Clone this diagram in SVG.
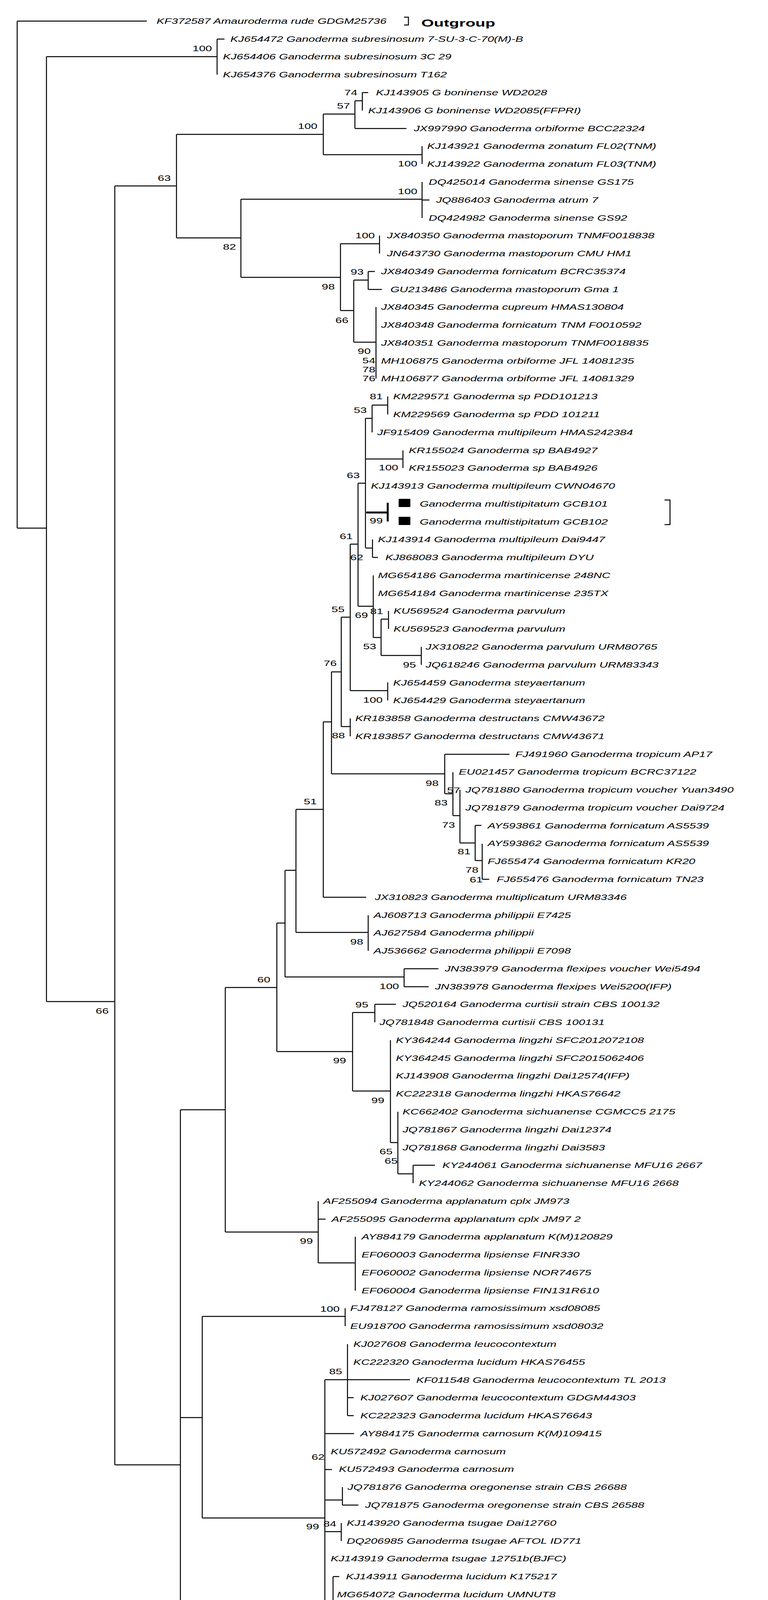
<svg xmlns="http://www.w3.org/2000/svg" width="1967" height="5094" viewBox="0 0 1967 5094">
<style>
.t{font-family:"Liberation Sans",Arial,sans-serif;font-style:italic;font-size:20px;fill:#000}
.b{font-family:"Liberation Sans",Arial,sans-serif;font-size:20px;fill:#000}
.o{font-family:"Liberation Sans",Arial,sans-serif;font-weight:bold;font-size:26px;fill:#000}
.e{fill:none;stroke:#000;stroke-width:2.5}
.k{fill:none;stroke:#000;stroke-width:5}
</style>
<rect width="1967" height="5094" fill="#fff"/>
<g id="connectors">
<path class="e" d="M44 54V1352M44 54H376M44 1352H119M119 145V2564M119 145H556M119 2564H294M556 100V191M556 100H575M294 476V3750M294 476H452M294 3750H462
M452 344V609M452 344H828M452 609H617M828 292V396M828 292H909M828 396H1081M909 258V329M909 258H928M909 329H1041M928 237V283M928 237H943M1081 374V420
M617 510V710M617 510H1081M1081 466V558M1081 512H1100M617 710H872M872 624V795M872 624H972M972 603V649M872 795H906M906 717V876M906 717H943M943 695V741M943 695H960M943 741H978M906 876H963M963 786V969
M936 1071V1402M936 1071H953M953 1037V1107M953 1037H993M993 1015V1061M936 1175H1032M1032 1153V1198M936 1403H954M954 1381V1427M954 1427H968
M917 1237V1552M917 1237H936M917 1552H956M956 1473V1632M956 1632H976M976 1585V1678M976 1585H995M995 1564V1610M976 1678H1079M1079 1656V1702
M897 1393V1768M897 1393H917M897 1768H993M993 1747V1793M874 1580V1860M874 1580H897M874 1860H897M897 1839V1885M849 1720V1981M849 1720H874M828 1848V2297M828 1848H849M828 2297H938
M849 1981H1139M1139 1931V2032M1139 1931H1305M1139 2032H1160M1160 1977V2088M1160 2088H1178M1178 2022V2158M1178 2158H1217M1217 2113V2203M1217 2113H1233M1217 2203H1235M1235 2160V2251M1235 2251H1253
M758 2072V2387M758 2072H828M758 2387H943M943 2343V2434M730 2228V2501M730 2228H758M730 2501H1035M1035 2480V2526M1035 2480H1123M1035 2526H1098
M709 2363V2692M709 2363H730M577 2528V3154M577 2528H709M709 2692H903M903 2592V2793M903 2592H960M960 2571V2617M960 2571H1014M903 2793H1000M1000 2663V2925M1000 2925H1019M1019 2846V3005M1019 3005H1058M1058 2983V3029M1058 2983H1114
M577 3154H815M815 3075V3233M815 3121H834M815 3233H910M910 3166V3304
M462 2841V4622M462 2841H577M462 3629H518M518 3370V3886M518 3370H884M884 3349V3395
M518 3886H832M832 3532V4240M832 3532H1050M890 3441V3624M890 3578H906M890 3624H906M832 3670H907M832 3762H850M832 3840H877M877 3807V3853M877 3853H918M832 3921H874M874 3899V3945M832 4240H853M853 4036V4448M853 4036H869
M462 4622H690M690 4516V4727M690 4516H869M869 4494V4540M690 4727H713M713 4608V4848M713 4608H832M832 4585V4631M832 4585H857M832 4631H853M713 4848H797M797 4746V4953M797 4746H913M913 4677V4814M913 4768H935M797 4953H913M913 4860V5043M913 4997H928
M1035 44H1046V64H1035M1702 1280H1716V1343H1702"/>
<path class="k" d="M938 1312H993M993 1287V1335"/>
<rect x="1021" y="1277" width="30" height="21" fill="#000"/>
<rect x="1021" y="1323" width="30" height="21" fill="#000"/>
</g>
<g id="support" class="b">
<text transform="translate(493,131) scale(1.5,1)">100</text>
<text transform="translate(882,244) scale(1.5,1)">74</text>
<text transform="translate(863,278) scale(1.5,1)">57</text>
<text transform="translate(763,330) scale(1.5,1)">100</text>
<text transform="translate(1019,426) scale(1.5,1)">100</text>
<text transform="translate(404,463) scale(1.5,1)">63</text>
<text transform="translate(1019,497) scale(1.5,1)">100</text>
<text transform="translate(571,639) scale(1.5,1)">82</text>
<text transform="translate(910,610) scale(1.5,1)">100</text>
<text transform="translate(824,741) scale(1.5,1)">98</text>
<text transform="translate(898,703) scale(1.5,1)">93</text>
<text transform="translate(859,827) scale(1.5,1)">66</text>
<text transform="translate(916,906) scale(1.5,1)">90</text>
<text transform="translate(928,930) scale(1.5,1)">54</text>
<text transform="translate(928,953) scale(1.5,1)">78</text>
<text transform="translate(928,976) scale(1.5,1)">76</text>
<text transform="translate(947,1022) scale(1.5,1)">81</text>
<text transform="translate(906,1057) scale(1.5,1)">53</text>
<text transform="translate(970,1204) scale(1.5,1)">100</text>
<text transform="translate(888,1224) scale(1.5,1)">63</text>
<text transform="translate(947,1340) scale(1.5,1)">99</text>
<text transform="translate(870,1380) scale(1.5,1)">61</text>
<text transform="translate(897,1434) scale(1.5,1)">62</text>
<text transform="translate(948,1572) scale(1.5,1)">81</text>
<text transform="translate(909,1582) scale(1.5,1)">69</text>
<text transform="translate(930,1662) scale(1.5,1)">53</text>
<text transform="translate(1032,1709) scale(1.5,1)">95</text>
<text transform="translate(930,1799) scale(1.5,1)">100</text>
<text transform="translate(849,1567) scale(1.5,1)">55</text>
<text transform="translate(829,1705) scale(1.5,1)">76</text>
<text transform="translate(850,1890) scale(1.5,1)">88</text>
<text transform="translate(1090,2012) scale(1.5,1)">98</text>
<text transform="translate(1145,2030) scale(1.5,1)">57</text>
<text transform="translate(1113,2062) scale(1.5,1)">83</text>
<text transform="translate(1132,2119) scale(1.5,1)">73</text>
<text transform="translate(1172,2187) scale(1.5,1)">81</text>
<text transform="translate(1192,2234) scale(1.5,1)">78</text>
<text transform="translate(1203,2259) scale(1.5,1)">61</text>
<text transform="translate(778,2059) scale(1.5,1)">51</text>
<text transform="translate(897,2418) scale(1.5,1)">98</text>
<text transform="translate(972,2532) scale(1.5,1)">100</text>
<text transform="translate(659,2515) scale(1.5,1)">60</text>
<text transform="translate(245,2595) scale(1.5,1)">66</text>
<text transform="translate(910,2579) scale(1.5,1)">95</text>
<text transform="translate(853,2722) scale(1.5,1)">99</text>
<text transform="translate(951,2824) scale(1.5,1)">99</text>
<text transform="translate(972,2955) scale(1.5,1)">65</text>
<text transform="translate(985,2979) scale(1.5,1)">65</text>
<text transform="translate(768,3184) scale(1.5,1)">99</text>
<text transform="translate(820,3358) scale(1.5,1)">100</text>
<text transform="translate(843,3518) scale(1.5,1)">85</text>
<text transform="translate(798,3737) scale(1.5,1)">62</text>
<text transform="translate(784,3915) scale(1.5,1)">99</text>
<text transform="translate(828,3908) scale(1.5,1)">84</text>
<text transform="translate(803,4503) scale(1.5,1)">100</text>
<text transform="translate(784,4595) scale(1.5,1)">97</text>
<text transform="translate(642,4653) scale(1.5,1)">96</text>
<text transform="translate(878,4687) scale(1.5,1)">57</text>
<text transform="translate(850,4733) scale(1.5,1)">100</text>
<text transform="translate(878,4823) scale(1.5,1)">55</text>
<text transform="translate(749,4880) scale(1.5,1)">60</text>
<text transform="translate(866,4984) scale(1.5,1)">99</text>
</g>
<g id="n0" class="t"><text transform="translate(401,61) scale(1.5,1)">KF372587 Amauroderma rude GDGM25736</text></g>
<g id="outgroup"><text class="o" transform="translate(1079,68) scale(1.6,1)">Outgroup</text></g>
<g id="n1" class="t"><text transform="translate(590,107) scale(1.5,1)">KJ654472 Ganoderma subresinosum 7-SU-3-C-70(M)-B</text></g>
<g id="n2" class="t"><text transform="translate(571,152) scale(1.5,1)">KJ654406 Ganoderma subresinosum 3C 29</text></g>
<g id="n3" class="t"><text transform="translate(571,198) scale(1.5,1)">KJ654376 Ganoderma subresinosum T162</text></g>
<g id="n4" class="t"><text transform="translate(963,244) scale(1.5,1)">KJ143905 G boninense WD2028</text></g>
<g id="n5" class="t"><text transform="translate(943,290) scale(1.5,1)">KJ143906 G boninense WD2085(FFPRI)</text></g>
<g id="n6" class="t"><text transform="translate(1060,336) scale(1.5,1)">JX997990 Ganoderma orbiforme BCC22324</text></g>
<g id="n7" class="t"><text transform="translate(1094,381) scale(1.5,1)">KJ143921 Ganoderma zonatum FL02(TNM)</text></g>
<g id="n8" class="t"><text transform="translate(1094,427) scale(1.5,1)">KJ143922 Ganoderma zonatum FL03(TNM)</text></g>
<g id="n9" class="t"><text transform="translate(1098,473) scale(1.5,1)">DQ425014 Ganoderma sinense GS175</text></g>
<g id="n10" class="t"><text transform="translate(1117,519) scale(1.5,1)">JQ886403 Ganoderma atrum 7</text></g>
<g id="n11" class="t"><text transform="translate(1098,565) scale(1.5,1)">DQ424982 Ganoderma sinense GS92</text></g>
<g id="n12" class="t"><text transform="translate(991,610) scale(1.5,1)">JX840350 Ganoderma mastoporum TNMF0018838</text></g>
<g id="n13" class="t"><text transform="translate(991,656) scale(1.5,1)">JN643730 Ganoderma mastoporum CMU HM1</text></g>
<g id="n14" class="t"><text transform="translate(976,702) scale(1.5,1)">JX840349 Ganoderma fornicatum BCRC35374</text></g>
<g id="n15" class="t"><text transform="translate(1000,748) scale(1.5,1)">GU213486 Ganoderma mastoporum Gma 1</text></g>
<g id="n16" class="t"><text transform="translate(976,793) scale(1.5,1)">JX840345 Ganoderma cupreum HMAS130804</text></g>
<g id="n17" class="t"><text transform="translate(976,839) scale(1.5,1)">JX840348 Ganoderma fornicatum TNM F0010592</text></g>
<g id="n18" class="t"><text transform="translate(976,885) scale(1.5,1)">JX840351 Ganoderma mastoporum TNMF0018835</text></g>
<g id="n19" class="t"><text transform="translate(976,931) scale(1.5,1)">MH106875 Ganoderma orbiforme JFL 14081235</text></g>
<g id="n20" class="t"><text transform="translate(976,976) scale(1.5,1)">MH106877 Ganoderma orbiforme JFL 14081329</text></g>
<g id="n21" class="t"><text transform="translate(1007,1022) scale(1.5,1)">KM229571 Ganoderma sp PDD101213</text></g>
<g id="n22" class="t"><text transform="translate(1007,1068) scale(1.5,1)">KM229569 Ganoderma sp PDD 101211</text></g>
<g id="n23" class="t"><text transform="translate(966,1114) scale(1.5,1)">JF915409 Ganoderma multipileum HMAS242384</text></g>
<g id="n24" class="t"><text transform="translate(1047,1160) scale(1.5,1)">KR155024 Ganoderma sp BAB4927</text></g>
<g id="n25" class="t"><text transform="translate(1047,1205) scale(1.5,1)">KR155023 Ganoderma sp BAB4926</text></g>
<g id="n26" class="t"><text transform="translate(950,1251) scale(1.5,1)">KJ143913 Ganoderma multipileum CWN04670</text></g>
<g id="n27" class="t"><text transform="translate(1075,1297) scale(1.5,1)">Ganoderma multistipitatum GCB101</text></g>
<g id="n28" class="t"><text transform="translate(1075,1343) scale(1.5,1)">Ganoderma multistipitatum GCB102</text></g>
<g id="n29" class="t"><text transform="translate(968,1388) scale(1.5,1)">KJ143914 Ganoderma multipileum Dai9447</text></g>
<g id="n30" class="t"><text transform="translate(987,1434) scale(1.5,1)">KJ868083 Ganoderma multipileum DYU</text></g>
<g id="n31" class="t"><text transform="translate(968,1480) scale(1.5,1)">MG654186 Ganoderma martinicense 248NC</text></g>
<g id="n32" class="t"><text transform="translate(968,1526) scale(1.5,1)">MG654184 Ganoderma martinicense 235TX</text></g>
<g id="n33" class="t"><text transform="translate(1008,1571) scale(1.5,1)">KU569524 Ganoderma parvulum</text></g>
<g id="n34" class="t"><text transform="translate(1008,1617) scale(1.5,1)">KU569523 Ganoderma parvulum</text></g>
<g id="n35" class="t"><text transform="translate(1090,1663) scale(1.5,1)">JX310822 Ganoderma parvulum URM80765</text></g>
<g id="n36" class="t"><text transform="translate(1090,1709) scale(1.5,1)">JQ618246 Ganoderma parvulum URM83343</text></g>
<g id="n37" class="t"><text transform="translate(1007,1755) scale(1.5,1)">KJ654459 Ganoderma steyaertanum</text></g>
<g id="n38" class="t"><text transform="translate(1007,1800) scale(1.5,1)">KJ654429 Ganoderma steyaertanum</text></g>
<g id="n39" class="t"><text transform="translate(910,1846) scale(1.5,1)">KR183858 Ganoderma destructans CMW43672</text></g>
<g id="n40" class="t"><text transform="translate(910,1892) scale(1.5,1)">KR183857 Ganoderma destructans CMW43671</text></g>
<g id="n41" class="t"><text transform="translate(1320,1938) scale(1.5,1)">FJ491960 Ganoderma tropicum AP17</text></g>
<g id="n42" class="t"><text transform="translate(1175,1983) scale(1.5,1)">EU021457 Ganoderma tropicum BCRC37122</text></g>
<g id="n43" class="t"><text transform="translate(1192,2029) scale(1.5,1)">JQ781880 Ganoderma tropicum voucher Yuan3490</text></g>
<g id="n44" class="t"><text transform="translate(1192,2075) scale(1.5,1)">JQ781879 Ganoderma tropicum voucher Dai9724</text></g>
<g id="n45" class="t"><text transform="translate(1249,2121) scale(1.5,1)">AY593861 Ganoderma fornicatum AS5539</text></g>
<g id="n46" class="t"><text transform="translate(1249,2166) scale(1.5,1)">AY593862 Ganoderma fornicatum AS5539</text></g>
<g id="n47" class="t"><text transform="translate(1249,2212) scale(1.5,1)">FJ655474 Ganoderma fornicatum KR20</text></g>
<g id="n48" class="t"><text transform="translate(1272,2258) scale(1.5,1)">FJ655476 Ganoderma fornicatum TN23</text></g>
<g id="n49" class="t"><text transform="translate(960,2304) scale(1.5,1)">JX310823 Ganoderma multiplicatum URM83346</text></g>
<g id="n50" class="t"><text transform="translate(957,2350) scale(1.5,1)">AJ608713 Ganoderma philippii E7425</text></g>
<g id="n51" class="t"><text transform="translate(957,2395) scale(1.5,1)">AJ627584 Ganoderma philippii</text></g>
<g id="n52" class="t"><text transform="translate(957,2441) scale(1.5,1)">AJ536662 Ganoderma philippii E7098</text></g>
<g id="n53" class="t"><text transform="translate(1139,2487) scale(1.5,1)">JN383979 Ganoderma flexipes voucher Wei5494</text></g>
<g id="n54" class="t"><text transform="translate(1114,2533) scale(1.5,1)">JN383978 Ganoderma flexipes Wei5200(IFP)</text></g>
<g id="n55" class="t"><text transform="translate(1031,2578) scale(1.5,1)">JQ520164 Ganoderma curtisii strain CBS 100132</text></g>
<g id="n56" class="t"><text transform="translate(972,2624) scale(1.5,1)">JQ781848 Ganoderma curtisii CBS 100131</text></g>
<g id="n57" class="t"><text transform="translate(1014,2670) scale(1.5,1)">KY364244 Ganoderma lingzhi SFC2012072108</text></g>
<g id="n58" class="t"><text transform="translate(1014,2716) scale(1.5,1)">KY364245 Ganoderma lingzhi SFC2015062406</text></g>
<g id="n59" class="t"><text transform="translate(1014,2761) scale(1.5,1)">KJ143908 Ganoderma lingzhi Dai12574(IFP)</text></g>
<g id="n60" class="t"><text transform="translate(1014,2807) scale(1.5,1)">KC222318 Ganoderma lingzhi HKAS76642</text></g>
<g id="n61" class="t"><text transform="translate(1031,2853) scale(1.5,1)">KC662402 Ganoderma sichuanense CGMCC5 2175</text></g>
<g id="n62" class="t"><text transform="translate(1031,2899) scale(1.5,1)">JQ781867 Ganoderma lingzhi Dai12374</text></g>
<g id="n63" class="t"><text transform="translate(1031,2945) scale(1.5,1)">JQ781868 Ganoderma lingzhi Dai3583</text></g>
<g id="n64" class="t"><text transform="translate(1133,2990) scale(1.5,1)">KY244061 Ganoderma sichuanense MFU16 2667</text></g>
<g id="n65" class="t"><text transform="translate(1073,3036) scale(1.5,1)">KY244062 Ganoderma sichuanense MFU16 2668</text></g>
<g id="n66" class="t"><text transform="translate(828,3082) scale(1.5,1)">AF255094 Ganoderma applanatum cplx JM973</text></g>
<g id="n67" class="t"><text transform="translate(849,3128) scale(1.5,1)">AF255095 Ganoderma applanatum cplx JM97 2</text></g>
<g id="n68" class="t"><text transform="translate(926,3173) scale(1.5,1)">AY884179 Ganoderma applanatum K(M)120829</text></g>
<g id="n69" class="t"><text transform="translate(926,3219) scale(1.5,1)">EF060003 Ganoderma lipsiense FINR330</text></g>
<g id="n70" class="t"><text transform="translate(926,3265) scale(1.5,1)">EF060002 Ganoderma lipsiense NOR74675</text></g>
<g id="n71" class="t"><text transform="translate(926,3311) scale(1.5,1)">EF060004 Ganoderma lipsiense FIN131R610</text></g>
<g id="n72" class="t"><text transform="translate(897,3356) scale(1.5,1)">FJ478127 Ganoderma ramosissimum xsd08085</text></g>
<g id="n73" class="t"><text transform="translate(897,3402) scale(1.5,1)">EU918700 Ganoderma ramosissimum xsd08032</text></g>
<g id="n74" class="t"><text transform="translate(905,3448) scale(1.5,1)">KJ027608 Ganoderma leucocontextum</text></g>
<g id="n75" class="t"><text transform="translate(905,3494) scale(1.5,1)">KC222320 Ganoderma lucidum HKAS76455</text></g>
<g id="n76" class="t"><text transform="translate(1066,3540) scale(1.5,1)">KF011548 Ganoderma leucocontextum TL 2013</text></g>
<g id="n77" class="t"><text transform="translate(923,3585) scale(1.5,1)">KJ027607 Ganoderma leucocontextum GDGM44303</text></g>
<g id="n78" class="t"><text transform="translate(923,3631) scale(1.5,1)">KC222323 Ganoderma lucidum HKAS76643</text></g>
<g id="n79" class="t"><text transform="translate(923,3677) scale(1.5,1)">AY884175 Ganoderma carnosum K(M)109415</text></g>
<g id="n80" class="t"><text transform="translate(847,3723) scale(1.5,1)">KU572492 Ganoderma carnosum</text></g>
<g id="n81" class="t"><text transform="translate(868,3768) scale(1.5,1)">KU572493 Ganoderma carnosum</text></g>
<g id="n82" class="t"><text transform="translate(890,3814) scale(1.5,1)">JQ781876 Ganoderma oregonense strain CBS 26688</text></g>
<g id="n83" class="t"><text transform="translate(935,3860) scale(1.5,1)">JQ781875 Ganoderma oregonense strain CBS 26588</text></g>
<g id="n84" class="t"><text transform="translate(888,3906) scale(1.5,1)">KJ143920 Ganoderma tsugae Dai12760</text></g>
<g id="n85" class="t"><text transform="translate(888,3952) scale(1.5,1)">DQ206985 Ganoderma tsugae AFTOL ID771</text></g>
<g id="n86" class="t"><text transform="translate(847,3997) scale(1.5,1)">KJ143919 Ganoderma tsugae 12751b(BJFC)</text></g>
<g id="n87" class="t"><text transform="translate(886,4043) scale(1.5,1)">KJ143911 Ganoderma lucidum K175217</text></g>
<g id="n88" class="t"><text transform="translate(863,4089) scale(1.5,1)">MG654072 Ganoderma lucidum UMNUT8</text></g>
<g id="n89" class="t"><text transform="translate(863,4135) scale(1.5,1)">MG654073 Ganoderma lucidum UMNUT9</text></g>
<g id="n90" class="t"><text transform="translate(863,4180) scale(1.5,1)">DQ425011 Ganoderma oerstedii isolate GO138</text></g>
<g id="n91" class="t"><text transform="translate(863,4226) scale(1.5,1)">JQ781852 Ganoderma lucidum Dai11593(IFP)</text></g>
<g id="n92" class="t"><text transform="translate(863,4272) scale(1.5,1)">KJ143912 Ganoderma lucidum MT2610(BRNM)</text></g>
<g id="n93" class="t"><text transform="translate(863,4318) scale(1.5,1)">AM906058 Ganoderma lucidum GICN04</text></g>
<g id="n94" class="t"><text transform="translate(863,4363) scale(1.5,1)">JQ781853 Ganoderma tsugae Dai3937</text></g>
<g id="n95" class="t"><text transform="translate(863,4409) scale(1.5,1)">KC222321 Ganoderma lucidum HKAS71088</text></g>
<g id="n96" class="t"><text transform="translate(863,4455) scale(1.5,1)">JQ781854 Ganoderma tsugae Yuan5649</text></g>
<g id="n97" class="t"><text transform="translate(884,4501) scale(1.5,1)">KU219989 Ganoderma hoehnelianum Dai12096</text></g>
<g id="n98" class="t"><text transform="translate(884,4547) scale(1.5,1)">KU219988 Ganoderma hoehnelianum Dai11995</text></g>
<g id="n99" class="t"><text transform="translate(876,4592) scale(1.5,1)">JQ781877 Ganoderma sichuanense voucher HMAS42798</text></g>
<g id="n100" class="t"><text transform="translate(866,4638) scale(1.5,1)">JQ781878 Ganoderma sichuanense voucher Cui7691</text></g>
<g id="n101" class="t"><text transform="translate(928,4684) scale(1.5,1)">AM269775 Ganoderma resinaceum</text></g>
<g id="n102" class="t"><text transform="translate(928,4730) scale(1.5,1)">KJ509598 Ganoderma resinaceum Gre4</text></g>
<g id="n103" class="t"><text transform="translate(947,4775) scale(1.5,1)">KJ143915 Ganoderma resinaceum BR4150</text></g>
<g id="n104" class="t"><text transform="translate(928,4821) scale(1.5,1)">KJ143916 Ganoderma resinaceum CBS194 76</text></g>
<g id="n105" class="t"><text transform="translate(926,4867) scale(1.5,1)">MG654317 Ganoderma sessile</text></g>
<g id="n106" class="t"><text transform="translate(926,4913) scale(1.5,1)">MG654318 Ganoderma sessile</text></g>
<g id="n107" class="t"><text transform="translate(926,4958) scale(1.5,1)">AY636059 Ganoderma lucidum OE234</text></g>
<g id="n108" class="t"><text transform="translate(943,5004) scale(1.5,1)">JQ520193 Ganoderma neojaponicum ASI7032</text></g>
<g id="n109" class="t"><text transform="translate(926,5050) scale(1.5,1)">JQ520218 Ganoderma valesiacum CBS42884</text></g>
</svg>
